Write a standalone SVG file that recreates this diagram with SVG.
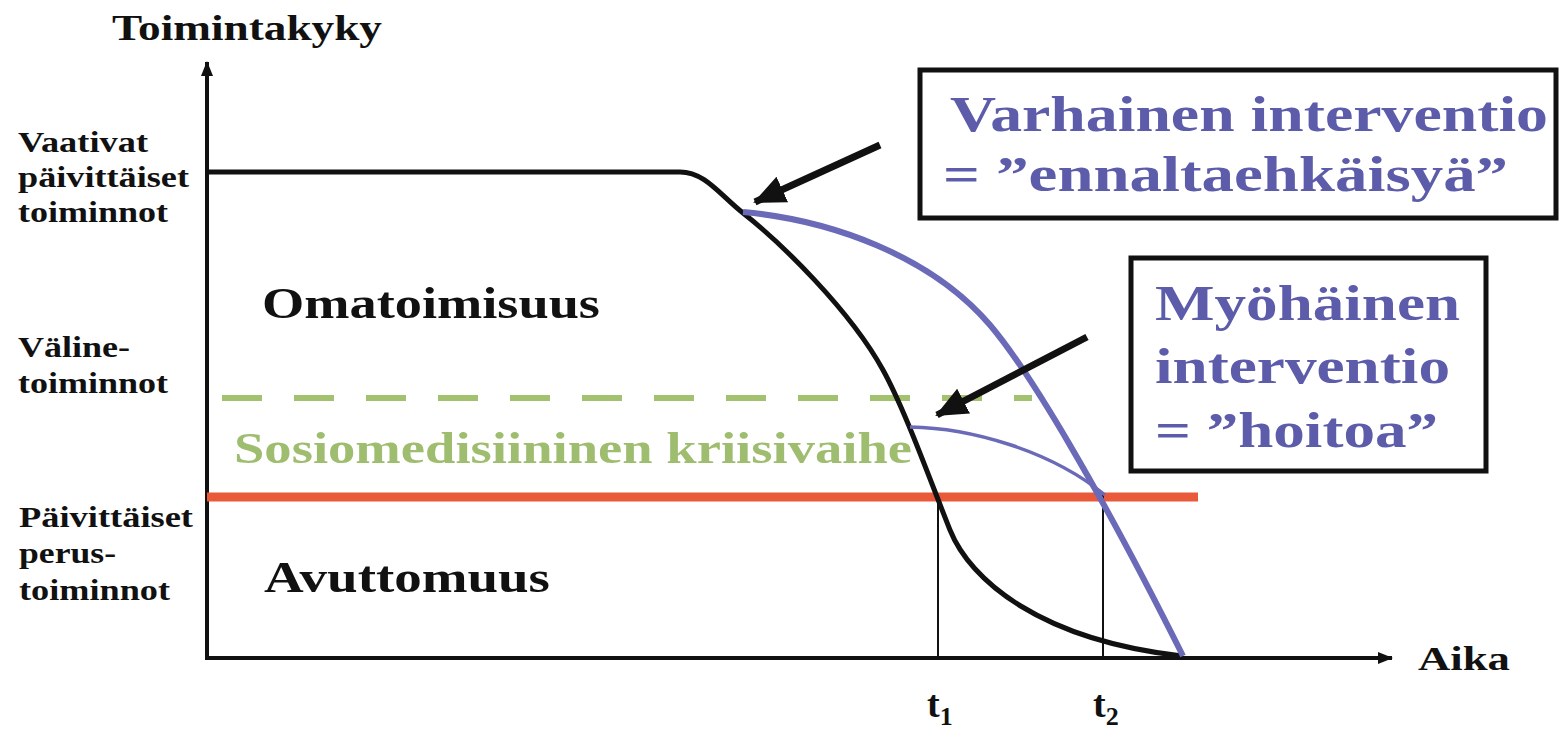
<svg xmlns="http://www.w3.org/2000/svg" width="1567" height="729" viewBox="0 0 1567 729">
<style>
text{font-family:"Liberation Serif","Times New Roman",serif;font-weight:bold}
.lbl{font-size:30px;fill:#111}
.zone{font-size:44px;fill:#111}
.blue{font-size:50px;fill:#5c5cab}
.green{font-size:44px;fill:#9ebd6e}
.ax{stroke:#111;stroke-width:4;fill:none}
.thin{stroke:#111;stroke-width:2;fill:none}
.box{fill:#fff;stroke:#111;stroke-width:5}
.ptr{stroke:#111;stroke-width:7;fill:none}
</style>
<defs>
<marker id="axhead" markerUnits="userSpaceOnUse" markerWidth="16" markerHeight="14" refX="14" refY="7" orient="auto">
<path d="M0,1 L15,7 L0,13 Z" fill="#111"/>
</marker>
<marker id="ptrhead" markerUnits="userSpaceOnUse" markerWidth="34" markerHeight="30" refX="30" refY="15" orient="auto">
<path d="M0,1 L32,15 L0,29 Z" fill="#111"/>
</marker>
</defs>
<rect width="1567" height="729" fill="#fff"/>

<g id="axes">
<line class="ax" x1="207" y1="660" x2="207" y2="62" marker-end="url(#axhead)"/>
<line class="ax" x1="205" y1="658" x2="1392" y2="658" marker-end="url(#axhead)"/>
</g>

<g id="levels">
<line x1="222" y1="398" x2="1032" y2="398" stroke="#a2c26f" stroke-width="6" stroke-dasharray="40 32"/>
<line x1="207" y1="497" x2="1198" y2="497" stroke="#e85a3a" stroke-width="9"/>
<line class="thin" x1="938" y1="497" x2="938" y2="658"/>
<line class="thin" x1="1103" y1="492" x2="1103" y2="658"/>
</g>

<g id="connectors">
<path d="M207,172 L680,172 C705,172 720,195 743,213 C780,242 850,310 883,370 C905,410 930,480 950,530 C970,580 1040,640 1182,656" stroke="#111" stroke-width="5" fill="none"/>
<path d="M743,212 C830,220 930,255 990,325 C1030,372 1100,490 1183,656" stroke="#6a6ab8" stroke-width="6" fill="none"/>
<path d="M910,427 C970,428 1050,450 1105,495" stroke="#6a6ab8" stroke-width="3.5" fill="none"/>
<line class="ptr" x1="880" y1="145" x2="755" y2="202" marker-end="url(#ptrhead)"/>
<line class="ptr" x1="1087" y1="337" x2="937" y2="415" marker-end="url(#ptrhead)"/>
</g>

<g id="title">
<text x="112" y="40" font-size="36" fill="#111" textLength="270" lengthAdjust="spacingAndGlyphs">Toimintakyky</text>
</g>

<g id="label-vaativat">
<text class="lbl" x="18" y="152" textLength="130" lengthAdjust="spacingAndGlyphs">Vaativat</text>
<text class="lbl" x="18" y="187" textLength="171" lengthAdjust="spacingAndGlyphs">päivittäiset</text>
<text class="lbl" x="18" y="222" textLength="150" lengthAdjust="spacingAndGlyphs">toiminnot</text>
</g>

<g id="label-valine">
<text class="lbl" x="18" y="357" textLength="112" lengthAdjust="spacingAndGlyphs">Väline-</text>
<text class="lbl" x="18" y="393" textLength="150" lengthAdjust="spacingAndGlyphs">toiminnot</text>
</g>

<g id="label-perus">
<text class="lbl" x="19" y="527" textLength="174" lengthAdjust="spacingAndGlyphs">Päivittäiset</text>
<text class="lbl" x="19" y="563" textLength="97" lengthAdjust="spacingAndGlyphs">perus-</text>
<text class="lbl" x="19" y="600" textLength="151" lengthAdjust="spacingAndGlyphs">toiminnot</text>
</g>

<g id="zone-omatoimisuus">
<text class="zone" x="262" y="318" textLength="338" lengthAdjust="spacingAndGlyphs">Omatoimisuus</text>
</g>
<g id="zone-kriisi">
<text class="green" x="234" y="463" textLength="678" lengthAdjust="spacingAndGlyphs">Sosiomedisiininen kriisivaihe</text>
</g>
<g id="zone-avuttomuus">
<text class="zone" x="264" y="592" font-size="42" textLength="286" lengthAdjust="spacingAndGlyphs">Avuttomuus</text>
</g>

<g id="box-varhainen">
<rect class="box" x="920" y="70" width="636" height="148"/>
<text class="blue" x="950" y="131" textLength="598" lengthAdjust="spacingAndGlyphs">Varhainen interventio</text>
<text class="blue" x="943" y="191" textLength="565" lengthAdjust="spacingAndGlyphs">= ”ennaltaehkäisyä”</text>
</g>

<g id="box-myohainen">
<rect class="box" x="1131" y="258" width="355" height="213"/>
<text class="blue" x="1155" y="320" textLength="305" lengthAdjust="spacingAndGlyphs">Myöhäinen</text>
<text class="blue" x="1155" y="383" textLength="295" lengthAdjust="spacingAndGlyphs">interventio</text>
<text class="blue" x="1155" y="447" textLength="283" lengthAdjust="spacingAndGlyphs">= ”hoitoa”</text>
</g>

<g id="axis-labels">
<text x="1418" y="670" font-size="34" fill="#111" textLength="92" lengthAdjust="spacingAndGlyphs">Aika</text>
<text x="927" y="717" font-size="38" fill="#111">t<tspan font-size="26" dy="8">1</tspan></text>
<text x="1093" y="717" font-size="38" fill="#111">t<tspan font-size="26" dy="8">2</tspan></text>
</g>
</svg>
